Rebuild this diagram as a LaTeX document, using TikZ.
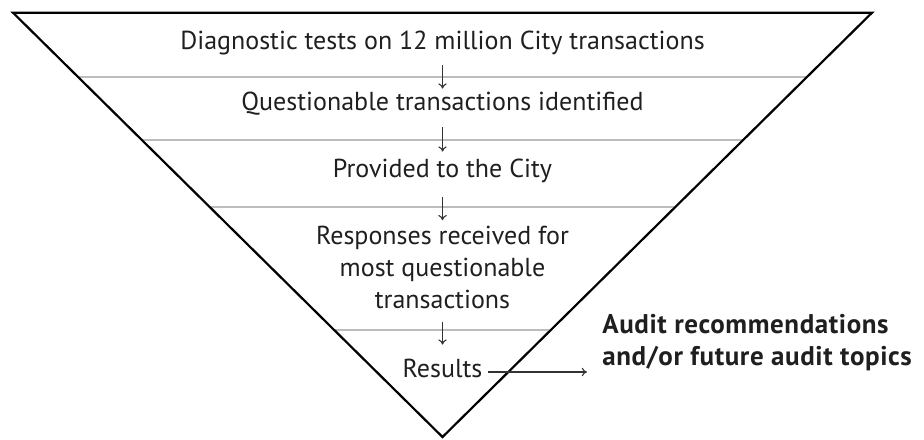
\documentclass[tikz,border=0pt]{standalone}
\usepackage{fontspec}
\setmainfont{PT Sans}
\usetikzlibrary{calc, arrows.meta}

\begin{document}
\begin{tikzpicture}[x=.5pt, y=-.5pt,
    funnel/.style={line width=1.1pt, line join=miter},
    rule/.style={draw=black!26, line width=1.1pt},
    level/.style={font=\fontsize{13}{16}\selectfont, align=center,
        anchor=base, inner sep=0pt, text=black!88},
    oneline/.style={level, text height=9pt, text depth=2.5pt},
    arrow/.style={-{To[length=2.6pt, width=4.2pt]}, line width=.55pt,
        draw=black!80},
    outcome/.style={font=\fontsize{13.5}{16}\selectfont\bfseries
            \addfontfeature{LetterSpace=2.2},
        align=left, anchor=base west, inner sep=0pt, text=black!88},
]
    \useasboundingbox (0, 0) rectangle (924, 439);

    %% the funnel and the grey rules between its levels
    \coordinate (left) at (13, 12.7);
    \coordinate (right) at (872, 12.7);
    \coordinate (apex) at (442.5, 437);
    \foreach \t in {.1508, .300, .457, .748}
        \draw[rule] ($(left)!\t!(apex)$) -- ($(right)!\t!(apex)$);
    \draw[funnel] (left) -- (right) -- (apex) -- cycle;

    %% the levels, top to bottom (a multi-line node sits on its last line)
    \node[oneline] (diag) at (442.5, 49)
        {Diagnostic tests on 12 million City transactions};
    \node[oneline] (quest) at (442.5, 110)
        {Questionable transactions identified};
    \node[oneline] (prov) at (442.5, 177) {Provided to the City};
    \node[level] (resp) at (442.5, 308)
        {Responses received for\\most questionable\\transactions};
    \node[oneline] (results) at (442.5, 377) {Results};

    %% short arrows from one level down to the next
    \foreach \a/\b/\s/\e in {diag/quest/5.5/1.5, quest/prov/6/3.5,
            prov/resp/7.5/2.5, resp/results/6.5/7}
        \draw[arrow, shorten <=\s pt, shorten >=\e pt] (\a.south) -- (\b.north);

    %% what comes out of the funnel
    \node[outcome] (audit) at (602, 365)
        {Audit recommendations\\and/or future audit topics};
    \draw[arrow, shorten <=2.5pt, shorten >=7.5pt]
        (results.mid east) -- (results.mid east -| audit.west);
\end{tikzpicture}
\end{document}
